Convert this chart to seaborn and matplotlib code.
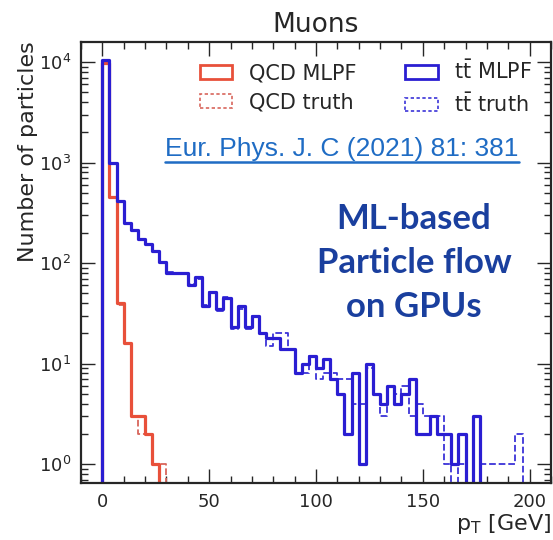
import numpy as np
import pandas as pd
import matplotlib
matplotlib.use("Agg")
import matplotlib.pyplot as plt
import seaborn as sns
from matplotlib.patches import Patch
from matplotlib.lines import Line2D

# ---------------- data (counts per bin, bin width 10/3 GeV, 0..200 GeV) ----------------
bin_width = 10.0 / 3.0
n_bins = 60

tt_mlpf = [10400, 990, 420, 250, 214, 172, 156, 131, 103, 80,
           80, 80, 61, 72, 37, 52, 35, 45, 23, 37,
           23, 30, 20, 18, 18, 14, 14, 8, 10, 12,
           9, 11, 7, 5, 2, 8, 1, 10, 5, 4,
           6, 4, 5, 7, 2, 2, 3, 2, 2, 1,
           2, 0, 3, 0, 0, 0, 0, 0, 0, 0]
tt_truth = [10200, 980, 415, 250, 214, 172, 156, 131, 103, 82,
            80, 78, 62, 70, 38, 51, 33, 46, 22, 35,
            22, 30, 20, 15, 20, 20, 14, 8, 8, 12,
            7, 8, 8, 7, 7, 4, 4, 9, 5, 3,
            6, 5, 6, 3, 4, 3, 3, 3, 1, 0,
            1, 0, 0, 1, 1, 1, 1, 1, 2, 0]
qcd_mlpf = [9800, 460, 40, 16, 3, 3, 2, 1] + [0] * 52
qcd_truth = [9800, 455, 38, 16, 3, 2, 2, 1, 1] + [0] * 51

x_ticks = [0, 50, 100, 150, 200]
legend_labels = ["QCD MLPF", "QCD truth", r"t$\bar{\rm t}$ MLPF", r"t$\bar{\rm t}$ truth"]

# ---------------- figure ----------------
sns.set_style("ticks")
plt.rcParams["font.family"] = ["DejaVu Sans"]

fig = plt.figure(figsize=(5.53, 5.40), dpi=100)
ax = fig.add_axes([81 / 553, 1 - 483.3 / 540, 470 / 553, 441.6 / 540])

# pad one empty bin on each side so the steps drop to zero at the ends
edges = np.arange(-1, n_bins + 2) * bin_width
centers = (edges[:-1] + edges[1:]) / 2

def pad(v):
    return [0] + list(v) + [0]

red = "#e8503a"
red_d = "#d8665c"
blue = "#2a1ed2"
blue_d = "#3b33d8"

series = [
    (qcd_truth, red_d, "--", 1.3),
    (tt_truth, blue_d, "--", 1.3),
    (qcd_mlpf, red, "-", 2.3),
    (tt_mlpf, blue, "-", 2.3),
]
for vals, col, ls, lw in series:
    df = pd.DataFrame({"pt": centers, "n": pad(vals)})
    sns.histplot(data=df, x="pt", weights="n", bins=[float(e) for e in edges], element="step",
                 fill=False, color=col, linestyle=ls, linewidth=lw, ax=ax)

ax.set_yscale("log")
ax.set_xlim(-10, 210)
ax.set_ylim(0.643, 16000)
ax.set_xticks(x_ticks)
ax.set_xticklabels([str(t) for t in x_ticks])
ax.xaxis.set_minor_locator(matplotlib.ticker.MultipleLocator(10))

ax.tick_params(which="both", direction="in", top=True, right=True, labelsize=13, width=1.0)
ax.tick_params(which="major", length=10, pad=7)
ax.tick_params(which="minor", length=5)
for s in ax.spines.values():
    s.set_linewidth(1.6)

ax.set_title("Muons", fontsize=19, pad=7)
ax.set_xlabel(r"p$_{\rm T}$ [GeV]", fontsize=16, loc="right", labelpad=1)
ax.set_ylabel("Number of particles", fontsize=16, loc="top", labelpad=1)

handles = [
    Patch(facecolor="none", edgecolor=red, linewidth=2.0, linestyle="-"),
    Patch(facecolor="none", edgecolor=red_d, linewidth=1.2, linestyle=(0, (2, 1.5))),
    Patch(facecolor="none", edgecolor=blue, linewidth=2.0, linestyle="-"),
    Patch(facecolor="none", edgecolor=blue_d, linewidth=1.2, linestyle=(0, (2, 1.5))),
]
ax.legend(handles, legend_labels, ncol=2, frameon=False, fontsize=15,
          loc="upper left", bbox_to_anchor=((200 - 81) / 470, 1 - (60 - 41.7) / 441.6),
          borderpad=0, borderaxespad=0, handlelength=1.55, handleheight=0.65,
          handletextpad=0.8, columnspacing=2.35, labelspacing=0.45)

# citation (underlined hyperlink-style text)
link_col = "#1f6cc4"
t = fig.text(342 / 553, 1 - 149 / 540, "Eur. Phys. J. C (2021) 81: 381", color=link_col,
             fontsize=19, family=["Liberation Sans", "DejaVu Sans"], ha="center", va="center")
fig.canvas.draw()
bb = t.get_window_extent().transformed(fig.transFigure.inverted())
fig.add_artist(Line2D([bb.x0, bb.x1], [bb.y0 - 0.001, bb.y0 - 0.001], color=link_col,
                      linewidth=1.8, transform=fig.transFigure))

fig.text(414 / 553, 1 - 263 / 540, "ML-based\nParticle flow\non GPUs", color="#1a3f9e",
         fontsize=25, fontweight="bold", family=["Lato", "DejaVu Sans"], ha="center",
         va="center", multialignment="center", linespacing=1.45)

fig.savefig("out.png", dpi=100)
